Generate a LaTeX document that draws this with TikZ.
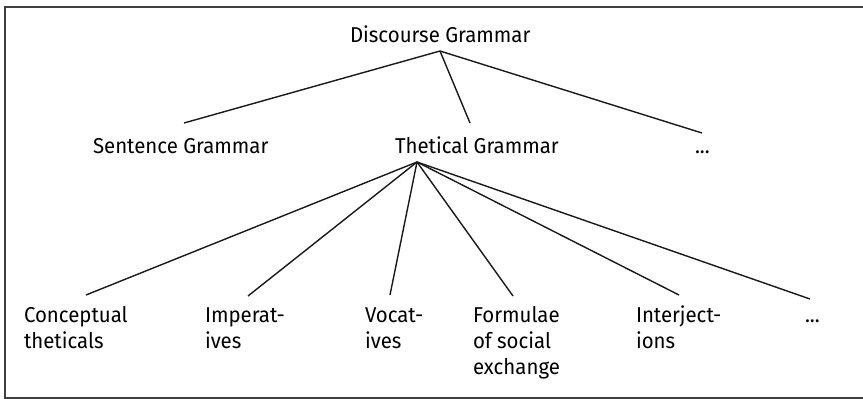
\documentclass[tikz,border=0pt]{standalone}
\usepackage{fontspec}
\setmainfont{Fira Sans}[FakeStretch=0.95]
\usetikzlibrary{calc}
\begin{document}
\begin{tikzpicture}[x=1pt,y=-1pt,
  lbl/.style={inner sep=0pt,outer sep=0pt,anchor=base west,
    font=\fontsize{21.5}{26}\selectfont},
  edge/.style={line width=1.4pt,black!90},
  frame/.style={line width=1.3pt,black!75}]
\useasboundingbox (0,0) rectangle (863,399);
\draw[frame] (5,7) rectangle (875,398);
% top
\node[lbl] (dg) at (350,42) {Discourse Grammar};
% middle row
\node[lbl] (sg) at (93,153) {Sentence Grammar};
\node[lbl] (tg) at (395,153) {Thetical Grammar};
\node[lbl] (d1) at (695,153) {...};
% bottom row
\newcommand{\twol}[1]{\begin{tabular}[t]{@{}l@{}}#1\end{tabular}}
\node[lbl] (c1) at (24,322) {\twol{Conceptual\\theticals}};
\node[lbl] (c2) at (205,322) {\twol{Imperat-\\ives}};
\node[lbl] (c3) at (365,322) {\twol{Vocat-\\ives}};
\node[lbl] (c4) at (473,322) {\twol{Formulae\\of social\\exchange}};
\node[lbl] (c5) at (636,322) {\twol{Interject-\\ions}};
\node[lbl] (c6) at (805,322) {...};
% apexes
\coordinate (ta) at ($(dg.base west)+(90,9)$);
\coordinate (tb) at ($(tg.base west)+(22,9)$);
% connectors
\draw[edge] (ta) -- ($(sg.base west)+(91,-30)$);
\draw[edge] (ta) -- ($(tg.base west)+(75,-30)$);
\draw[edge] (ta) -- ($(d1.base west)+(7,-20)$);
\draw[edge] (tb) -- ($(c1.base west)+(62,-27)$);
\draw[edge] (tb) -- ($(c2.base west)+(43,-26)$);
\draw[edge] (tb) -- ($(c3.base west)+(25,-27)$);
\draw[edge] (tb) -- ($(c4.base west)+(40,-26)$);
\draw[edge] (tb) -- ($(c5.base west)+(43,-27)$);
\draw[edge] (tb) -- ($(c6.base west)+(5,-23)$);
\end{tikzpicture}
\end{document}
